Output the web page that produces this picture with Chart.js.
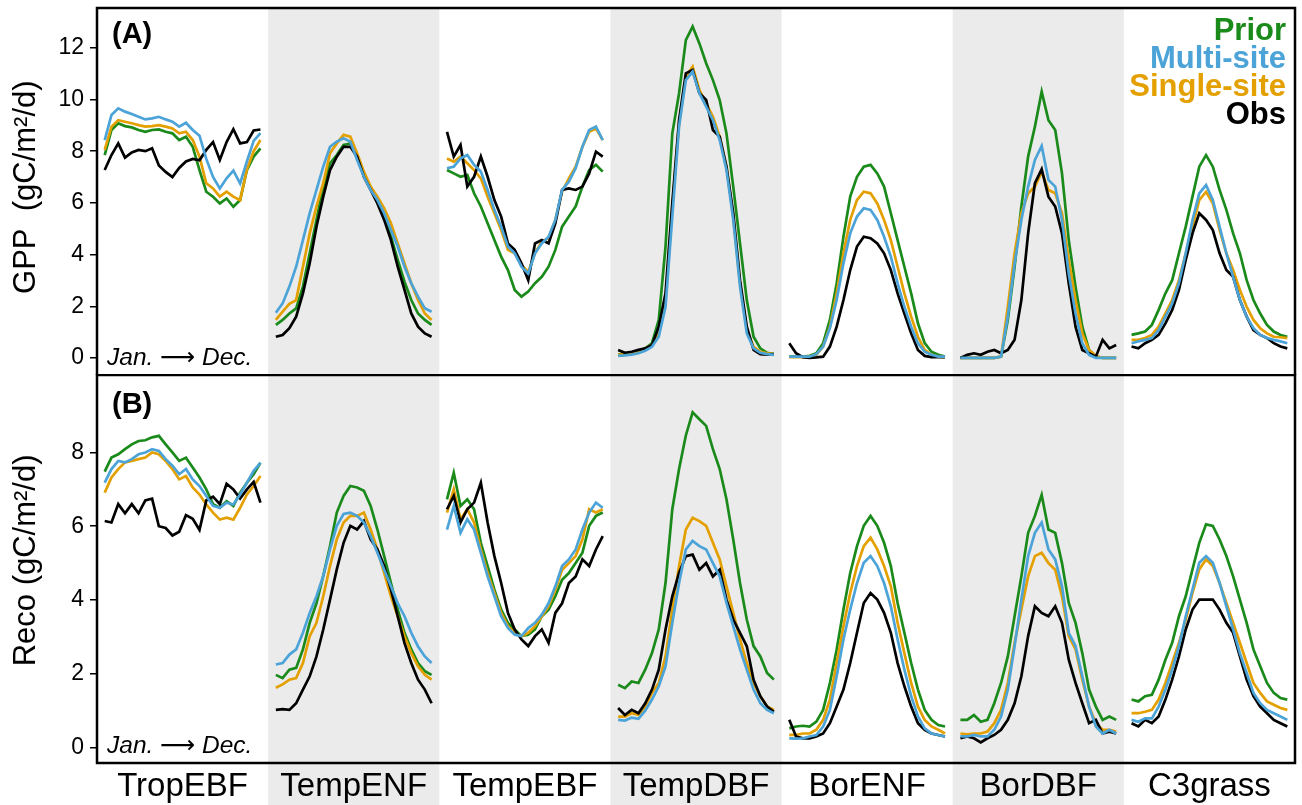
<!DOCTYPE html>
<html>
<head>
<meta charset="utf-8">
<script src="https://cdn.jsdelivr.net/npm/chart.js@4/dist/chart.umd.min.js"></script>
<style>
  html, body { margin: 0; padding: 0; background: #fff; }
  #wrap { position: relative; width: 1302px; height: 805px; overflow: hidden; }
  #gpp { position: absolute; left: 0; top: 0; }
  #reco { position: absolute; left: 0; top: 374px; }
</style>
</head>
<body>
<div id="wrap">
  <canvas id="gpp" width="1302" height="376"></canvas>
  <canvas id="reco" width="1302" height="431"></canvas>
</div>
<script>
// plant functional types, one column each (Jan -> Dec inside a column)
const pfts = ['TropEBF', 'TempENF', 'TempEBF', 'TempDBF', 'BorENF', 'BorDBF', 'C3grass'];
const seriesNames = ['Prior', 'Multi-site', 'Single-site', 'Obs'];
const gppTicks = [0, 2, 4, 6, 8, 10, 12];
const recoTicks = [0, 2, 4, 6, 8];

// GPP, gC/m2/d, 24 half-month steps per PFT
const gppPrior = [
  [7.85,8.82,9.08,8.97,8.92,8.82,8.75,8.82,8.84,8.75,8.69,8.43,8.56,8.17,7.27,6.43,6.24,5.98,6.17,5.85,6.11,7.27,7.79,8.11],
  [1.28,1.47,1.72,1.92,2.76,4.05,5.34,6.63,7.53,7.85,8.24,8.30,7.79,7.14,6.56,6.11,5.47,4.69,3.79,2.95,2.24,1.72,1.47,1.28],
  [7.27,7.14,7.01,7.08,6.37,5.86,5.21,4.56,3.92,3.40,2.63,2.37,2.57,2.89,3.14,3.53,4.18,5.08,5.47,5.86,6.63,7.27,7.47,7.21],
  [0.12,0.18,0.20,0.24,0.37,0.57,1.47,4.31,8.69,10.24,12.30,12.82,12.17,11.40,10.75,9.98,8.69,6.63,4.43,2.24,0.82,0.37,0.20,0.15],
  [0.05,0.05,0.05,0.08,0.18,0.57,1.47,2.89,4.69,6.24,7.01,7.40,7.47,7.14,6.63,5.60,4.56,3.53,2.50,1.34,0.57,0.24,0.12,0.05],
  [0,0,0,0,0,0,0.05,1.47,3.53,5.86,7.79,8.95,10.3,9.2,8.82,7.14,4.56,2.76,1.21,0.31,0.05,0,0,0],
  [0.89,0.95,1.02,1.28,1.86,2.50,3.01,4.05,5.08,6.24,7.40,7.85,7.40,6.50,5.73,4.82,4.05,3.01,2.24,1.72,1.28,1.02,0.89,0.82]
];
const gppMulti = [
  [8.43,9.40,9.66,9.53,9.44,9.33,9.23,9.27,9.33,9.23,9.14,8.95,9.10,8.82,8.60,7.70,7.00,6.56,6.95,7.25,6.75,7.60,8.40,8.70],
  [1.75,2.11,2.76,3.53,4.56,5.60,6.50,7.40,8.17,8.37,8.50,8.37,7.66,7.01,6.50,6.11,5.60,4.95,4.31,3.53,2.89,2.37,1.92,1.79],
  [7.34,7.40,7.72,7.85,7.47,7.21,6.50,5.73,5.08,4.31,4.05,3.53,3.27,4.05,4.43,4.69,5.34,6.50,6.82,7.34,8.17,8.82,8.95,8.43],
  [0.08,0.10,0.13,0.18,0.28,0.43,0.82,1.98,5.47,8.95,10.75,11.08,10.24,9.72,9.20,8.43,7.27,5.34,2.76,0.95,0.37,0.20,0.15,0.12],
  [0.05,0.05,0.05,0.05,0.15,0.44,1.15,2.24,3.66,4.82,5.47,5.79,5.73,5.34,4.69,3.92,2.89,1.98,1.21,0.57,0.24,0.12,0.05,0.05],
  [0,0,0,0,0,0,0.05,1.60,3.66,5.34,6.63,7.66,8.2,6.89,6.63,5.34,3.27,1.72,0.57,0.12,0,0,0,0],
  [0.57,0.64,0.70,0.77,1.08,1.60,2.11,2.89,4.05,5.34,6.37,6.69,6.11,5.08,4.05,3.14,2.24,1.60,1.15,0.89,0.77,0.70,0.64,0.57]
];
const gppSingle = [
  [8.05,8.95,9.20,9.14,9.08,9.01,8.95,8.97,9.01,8.95,8.88,8.69,8.75,8.43,7.79,6.76,6.56,6.24,6.43,6.24,6.10,7.30,8.00,8.43],
  [1.47,1.79,2.09,2.24,3.53,4.82,5.86,6.76,7.92,8.30,8.63,8.56,7.92,7.21,6.63,6.24,5.79,5.21,4.43,3.66,2.89,2.24,1.72,1.47],
  [7.72,7.59,7.79,7.53,7.27,6.95,6.24,5.60,4.95,4.18,4.05,3.60,3.33,4.05,4.50,4.63,5.34,6.43,6.95,7.40,8.17,8.75,8.88,8.43],
  [0.12,0.15,0.18,0.24,0.37,0.50,0.95,2.24,5.86,9.08,10.88,11.27,10.37,9.85,9.33,8.56,7.40,5.47,2.89,1.08,0.43,0.24,0.18,0.15],
  [0.03,0.03,0.03,0.05,0.12,0.44,1.21,2.50,4.05,5.34,6.11,6.43,6.37,5.98,5.34,4.56,3.53,2.50,1.60,0.82,0.31,0.12,0.05,0.03],
  [0,0,0,0,0,0,0.05,1.98,4.05,5.60,6.37,6.63,7.2,6.5,6.37,5.60,3.79,2.24,0.95,0.31,0.08,0,0,0],
  [0.70,0.70,0.77,0.89,1.21,1.72,2.24,3.01,4.05,5.08,6.11,6.43,5.98,4.95,4.05,3.40,2.63,1.98,1.47,1.15,0.95,0.82,0.80,0.77]
];
const gppObs = [
  [7.27,7.85,8.30,7.75,7.95,8.05,8.00,8.11,7.45,7.20,7.00,7.35,7.60,7.70,7.65,8.05,8.35,7.66,8.35,8.85,8.30,8.35,8.80,8.84],
  [0.82,0.89,1.15,1.60,2.50,3.66,5.08,6.24,7.27,7.79,8.17,8.17,7.79,7.01,6.50,5.98,5.34,4.56,3.53,2.63,1.72,1.21,0.95,0.82],
  [8.75,7.79,8.24,6.63,7.01,7.79,7.01,6.11,5.47,4.43,4.18,3.66,3.01,4.43,4.56,4.43,5.21,6.50,6.56,6.50,6.63,7.14,7.98,7.79],
  [0.31,0.20,0.24,0.31,0.37,0.50,1.21,2.50,5.99,9.20,11.01,11.14,10.24,9.98,8.82,8.56,7.40,5.60,3.01,1.21,0.31,0.15,0.13,0.15],
  [0.57,0.18,0.03,0.00,0.02,0.05,0.44,1.21,2.24,3.40,4.31,4.69,4.63,4.43,4.05,3.40,2.50,1.72,0.95,0.31,0.08,0.03,0.03,0.03],
  [0,0.12,0.18,0.12,0.24,0.31,0.18,0.31,0.70,2.24,4.82,6.76,7.3,6.24,5.86,4.82,2.89,1.21,0.31,0.18,0.05,0.70,0.37,0.50],
  [0.44,0.37,0.57,0.70,0.89,1.34,1.86,2.63,3.79,4.82,5.60,5.34,4.95,4.05,3.40,3.14,2.24,1.60,1.08,0.89,0.77,0.57,0.44,0.37]
];

// Reco, gC/m2/d
const recoPrior = [
  [7.48,7.86,7.95,8.09,8.22,8.31,8.33,8.41,8.45,8.22,8.00,7.77,7.86,7.59,7.32,7.00,6.60,6.50,6.68,6.55,6.91,7.18,7.41,7.72],
  [1.97,1.88,2.11,2.16,2.66,3.38,3.91,4.65,5.46,6.37,6.82,7.09,7.05,6.96,6.55,5.91,5.19,4.46,3.74,3.11,2.66,2.29,2.07,1.97],
  [6.73,7.45,6.55,6.73,6.46,5.55,4.92,4.28,3.74,3.38,3.20,3.02,3.06,3.20,3.56,3.74,4.10,4.55,4.73,5.00,5.28,6.01,6.28,6.37],
  [1.70,1.61,1.79,1.75,2.11,2.56,3.20,4.46,6.46,7.55,8.46,9.09,8.90,8.72,8.09,7.55,6.73,5.64,4.46,3.47,2.75,2.47,2.02,1.84],
  [0.52,0.57,0.59,0.57,0.70,1.02,1.75,2.66,3.74,4.73,5.46,6.01,6.28,6.01,5.55,4.92,3.92,3.11,2.29,1.57,1.02,0.75,0.61,0.57],
  [0.75,0.75,0.88,0.70,0.75,1.20,1.75,2.47,3.56,4.64,5.82,6.28,6.85,5.91,5.82,5.00,3.92,3.38,2.56,1.57,1.11,0.75,0.84,0.75],
  [1.30,1.25,1.39,1.43,1.84,2.38,2.84,3.56,4.10,4.83,5.55,6.05,6.01,5.64,5.19,4.64,4.01,3.38,2.66,2.20,1.75,1.48,1.34,1.30]
];
const recoMulti = [
  [7.18,7.55,7.77,7.73,7.82,7.95,8.00,8.09,8.04,7.82,7.64,7.41,7.55,7.27,7.09,6.82,6.55,6.50,6.64,6.59,6.86,7.18,7.50,7.72],
  [2.25,2.29,2.52,2.66,3.11,3.65,4.10,4.65,5.37,6.01,6.33,6.37,6.28,6.10,5.73,5.28,4.82,4.37,3.91,3.56,3.11,2.74,2.47,2.29],
  [5.91,6.55,5.82,6.19,5.91,5.28,4.64,4.10,3.56,3.24,3.06,3.02,3.24,3.38,3.60,3.91,4.37,4.92,5.10,5.37,5.91,6.37,6.64,6.50],
  [0.75,0.73,0.81,0.78,1.00,1.30,1.66,2.20,3.38,4.46,5.37,5.60,5.46,5.37,5.00,4.64,3.92,3.29,2.66,2.11,1.57,1.20,1.02,0.93],
  [0.25,0.24,0.25,0.30,0.34,0.57,1.02,1.93,2.93,3.74,4.46,5.01,5.19,4.92,4.46,3.83,2.93,2.11,1.39,0.84,0.52,0.38,0.34,0.30],
  [0.30,0.30,0.34,0.30,0.30,0.48,0.84,1.57,2.75,4.01,5.19,5.82,6.10,5.37,5.10,4.37,3.11,2.75,1.93,1.11,0.57,0.38,0.48,0.38],
  [0.75,0.70,0.79,0.79,1.11,1.57,2.11,2.75,3.56,4.28,5.01,5.19,5.01,4.46,3.83,3.20,2.56,2.02,1.48,1.20,1.02,0.93,0.84,0.75]
];
const recoSingle = [
  [6.91,7.32,7.55,7.73,7.77,7.82,7.86,8.00,7.95,7.77,7.55,7.27,7.36,7.05,6.86,6.59,6.37,6.18,6.23,6.18,6.50,6.86,7.09,7.36],
  [1.62,1.71,1.84,1.88,2.29,3.02,3.38,4.10,4.92,5.64,6.10,6.28,6.28,6.37,5.91,5.37,4.73,4.10,3.56,3.02,2.56,2.20,1.97,1.84],
  [6.37,7.00,6.19,6.46,6.10,5.37,4.73,4.19,3.65,3.29,3.11,3.02,3.11,3.29,3.56,3.83,4.28,4.82,5.00,5.19,5.64,6.46,6.37,6.46],
  [0.84,0.84,0.93,0.88,1.11,1.48,1.75,2.47,3.74,4.92,5.91,6.23,6.14,6.01,5.55,5.10,4.37,3.65,2.93,2.29,1.75,1.39,1.11,1.02],
  [0.34,0.34,0.38,0.38,0.48,0.75,1.30,2.29,3.29,4.19,4.92,5.46,5.69,5.37,4.92,4.37,3.38,2.56,1.75,1.11,0.75,0.57,0.48,0.38],
  [0.38,0.36,0.38,0.38,0.43,0.66,1.02,1.75,2.84,3.74,4.64,5.19,5.28,5.00,4.82,4.10,3.02,2.66,1.84,1.11,0.66,0.48,0.48,0.43],
  [0.93,0.93,0.97,1.02,1.30,1.75,2.29,2.84,3.47,4.19,4.83,5.10,4.92,4.46,3.92,3.38,2.84,2.29,1.75,1.48,1.25,1.16,1.07,1.02]
];
const recoObs = [
  [6.14,6.10,6.60,6.35,6.60,6.35,6.70,6.75,6.00,5.95,5.75,5.85,6.30,6.20,5.90,6.70,6.80,6.60,7.15,7.00,6.75,7.00,7.20,6.64],
  [1.02,1.04,1.02,1.20,1.57,1.93,2.47,3.20,4.01,4.83,5.55,6.01,5.91,6.14,5.64,5.37,4.92,4.28,3.56,2.83,2.29,1.84,1.57,1.20],
  [6.46,6.82,6.10,6.46,6.64,7.18,6.10,5.19,4.46,3.65,3.20,2.93,2.75,3.02,3.20,2.84,3.65,3.91,4.46,4.64,5.10,4.92,5.37,5.73],
  [1.07,0.88,1.02,0.93,1.20,1.57,2.11,3.20,4.10,4.73,5.19,5.23,4.82,5.00,4.64,4.82,4.01,3.47,3.11,2.75,1.84,1.39,1.11,0.97],
  [0.75,0.30,0.25,0.25,0.30,0.38,0.66,1.11,1.57,2.29,3.11,3.92,4.19,4.01,3.65,3.11,2.29,1.66,1.11,0.66,0.48,0.38,0.34,0.30],
  [0.25,0.30,0.25,0.14,0.25,0.34,0.48,0.75,1.20,1.93,3.02,3.83,3.65,3.56,3.83,3.38,2.38,1.75,1.20,0.66,0.75,0.38,0.43,0.38],
  [0.66,0.57,0.75,0.66,0.84,1.30,1.84,2.47,3.20,3.74,4.01,4.01,4.01,3.74,3.38,3.11,2.47,1.84,1.39,1.11,0.93,0.75,0.66,0.57]
];

const COLORS = { 'Prior': '#1a8a1a', 'Multi-site': '#4ba3d8', 'Single-site': '#e3a000', 'Obs': '#000000' };
const FONT = '"Liberation Sans", Arial, "DejaVu Sans", sans-serif';
const BAND = '#ebebeb';

// each PFT gets one unit of x; the year runs inside it, a null breaks the line between PFTs
function toPoints(cols){
  const pts = [];
  cols.forEach((vals, k) => {
    vals.forEach((v, i) => pts.push({ x: k + 0.045 + 0.91 * i / (vals.length - 1), y: v }));
    pts.push({ x: k + 0.98, y: null });
  });
  return pts;
}

function datasets(byName){
  // first dataset is drawn on top
  return ['Multi-site', 'Obs', 'Single-site', 'Prior'].map(name => ({
    label: name,
    data: toPoints(byName[name]),
    borderColor: COLORS[name],
    borderWidth: 2.7,
    pointRadius: 0,
    tension: 0,
    spanGaps: false
  }));
}

const bands = {
  id: 'bands',
  beforeDraw(chart, args, opts){
    const { ctx, chartArea: a, scales: { x } } = chart;
    const top = opts.toEdge ? 0 : a.top;
    const bottom = opts.toEdge ? chart.height : a.bottom;
    ctx.save();
    ctx.fillStyle = BAND;
    pfts.forEach((p, k) => {
      if (k % 2 === 0) return;
      const l = x.getPixelForValue(k), r = x.getPixelForValue(k + 1);
      ctx.fillRect(l, top, r - l, bottom - top);
    });
    ctx.restore();
  }
};

const frame = {
  id: 'frame',
  afterDraw(chart, args, opts){
    const { ctx, chartArea: a } = chart;
    ctx.save();
    ctx.strokeStyle = '#000';
    ctx.lineWidth = 2.5;
    ctx.beginPath();
    if (opts.closed) {
      ctx.rect(a.left, a.top, a.right - a.left, a.bottom - a.top);
    } else {
      ctx.moveTo(a.left, a.bottom); ctx.lineTo(a.left, a.top);
      ctx.lineTo(a.right, a.top); ctx.lineTo(a.right, a.bottom);
    }
    ctx.stroke();

    ctx.fillStyle = '#000';
    ctx.textBaseline = 'middle';
    ctx.textAlign = 'left';
    ctx.font = 'bold 29px ' + FONT;
    ctx.fillText(opts.tag, a.left + 15, a.top + opts.tagY);
    ctx.font = 'italic 24.5px ' + FONT;
    ctx.fillText('Jan. \u27F6 Dec.', a.left + 10, a.bottom - 17);

    if (opts.legend) {
      ctx.textAlign = 'right';
      ctx.font = 'bold 31px ' + FONT;
      seriesNames.forEach((name, i) => {
        ctx.fillStyle = COLORS[name];
        ctx.fillText(name, a.right - 9, a.top + 23 + i * 28);
      });
    }
    ctx.restore();
  }
};

function yScale(min, max, ticks, title){
  return {
    type: 'linear', position: 'left', min, max,
    afterFit: s => { s.width = 97; s.paddingTop = 0; s.paddingBottom = 0; },
    afterBuildTicks: s => { s.ticks = ticks.map(v => ({ value: v })); },
    grid: { drawOnChartArea: false, drawTicks: true, tickLength: 7, color: '#000', lineWidth: 1.5 },
    border: { display: false },
    ticks: { color: '#000', font: { family: FONT, size: 23 }, padding: 6 },
    title: { display: true, text: title, color: '#000', font: { family: FONT, size: 31 }, padding: { top: 8, bottom: 0 } }
  };
}

function xScale(show){
  return {
    type: 'linear', min: 0, max: pfts.length, display: show,
    afterBuildTicks: s => { s.ticks = pfts.map((p, k) => ({ value: k + 0.5 })); },
    afterFit: s => { if (show) s.height = 42; s.paddingLeft = 0; s.paddingRight = 0; },
    grid: { display: false, drawTicks: false },
    border: { display: false },
    ticks: { color: '#000', font: { family: FONT, size: 33 }, padding: 4, autoSkip: false, maxRotation: 0,
             callback: (v, i) => pfts[i] }
  };
}

const common = {
  responsive: false, animation: false, devicePixelRatio: 1,
  plugins: { legend: { display: false }, tooltip: { enabled: false } }
};

new Chart(document.getElementById('gpp'), {
  type: 'line',
  data: { datasets: datasets({ 'Prior': gppPrior, 'Multi-site': gppMulti, 'Single-site': gppSingle, 'Obs': gppObs }) },
  options: {
    ...common,
    layout: { padding: { left: 0, top: 8, right: 7, bottom: 1 } },
    scales: { x: xScale(false), y: yScale(-0.66, 13.54, gppTicks, ' GPP  (gC/m\u00b2/d)') },
    plugins: { ...common.plugins, bands: { toEdge: false }, frame: { closed: false, tag: '(A)', tagY: 27, legend: true } }
  },
  plugins: [bands, frame]
});

new Chart(document.getElementById('reco'), {
  type: 'line',
  data: { datasets: datasets({ 'Prior': recoPrior, 'Multi-site': recoMulti, 'Single-site': recoSingle, 'Obs': recoObs }) },
  options: {
    ...common,
    layout: { padding: { left: 0, top: 1, right: 7, bottom: 0 } },
    scales: { x: xScale(true), y: yScale(-0.42, 10.1, recoTicks, '  Reco (gC/m\u00b2/d)') },
    plugins: { ...common.plugins, bands: { toEdge: true }, frame: { closed: true, tag: '(B)', tagY: 30, legend: false } }
  },
  plugins: [bands, frame]
});
</script>
</body>
</html>
